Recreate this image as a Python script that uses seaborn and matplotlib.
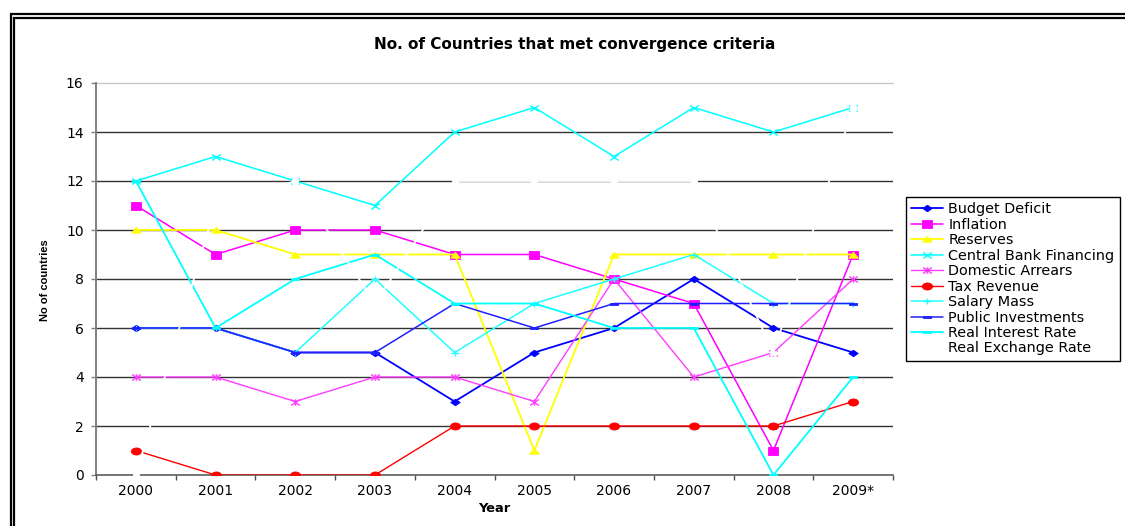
import numpy as np
import matplotlib
matplotlib.use("Agg")
import matplotlib.pyplot as plt
from matplotlib.path import Path
from matplotlib.patches import Rectangle
import seaborn as sns

# ---- data ---------------------------------------------------------------
years = ["2000", "2001", "2002", "2003", "2004", "2005", "2006", "2007", "2008", "2009*"]

budget_deficit = [6, 6, 5, 5, 3, 5, 6, 8, 6, 5]
inflation = [11, 9, 10, 10, 9, 9, 8, 7, 1, 9]
reserves = [10, 10, 9, 9, 9, 1, 9, 9, 9, 9]
central_bank_financing = [12, 13, 12, 11, 14, 15, 13, 15, 14, 15]
domestic_arrears = [4, 4, 3, 4, 4, 3, 8, 4, 5, 8]
tax_revenue = [1, 0, 0, 0, 2, 2, 2, 2, 2, 3]
salary_mass = [6, 6, 5, 8, 5, 7, 8, 9, 7, 7]
public_investments = [6, 6, 5, 5, 7, 6, 7, 7, 7, 7]
real_interest_rate = [12, 6, 8, 9, 7, 7, 6, 6, 0, 4]
real_exchange_rate = [0, 11, 12, 7, 12, 12, 12, 12, 5, 15]

series_names = ["Budget Deficit", "Inflation", "Reserves", "Central Bank Financing",
                "Domestic Arrears", "Tax Revenue", "Salary Mass", "Public Investments",
                "Real Interest Rate", "Real Exchange Rate"]
series_values = [budget_deficit, inflation, reserves, central_bank_financing,
                 domestic_arrears, tax_revenue, salary_mass, public_investments,
                 real_interest_rate, real_exchange_rate]

# ---- marker shapes (slightly wide, Excel-style) -------------------------
SX = 1.45


def wide_path(verts, codes=None):
    v = np.array(verts, dtype=float, copy=True)
    v[:, 0] *= SX
    return Path(v, None if codes is None else np.array(codes, copy=True))


M, L, C = Path.MOVETO, Path.LINETO, Path.CLOSEPOLY
diamond = wide_path([(0, 1), (1, 0), (0, -1), (-1, 0), (0, 1)], [M, L, L, L, C])
square = wide_path([(-1, -1), (1, -1), (1, 1), (-1, 1), (-1, -1)], [M, L, L, L, C])
triangle = wide_path([(-1, -0.8), (1, -0.8), (0, 0.95), (-1, -0.8)], [M, L, L, C])
_circ = Path.unit_circle()
circle = wide_path(_circ.vertices, _circ.codes)
xmark = wide_path([(-1, -1), (1, 1), (-1, 1), (1, -1)], [M, L, M, L])
plus = wide_path([(-1, 0), (1, 0), (0, -1), (0, 1)], [M, L, M, L])
star = wide_path([(-1, -1), (1, 1), (-1, 1), (1, -1), (0, -1.1), (0, 1.1)],
                 [M, L, M, L, M, L])
dash = wide_path([(-1, 0.22), (1, 0.22), (1, -0.22), (-1, -0.22), (-1, 0.22)],
                 [M, L, L, L, C])
blot = wide_path([(-1, -0.75), (1, -0.75), (1, 0.75), (-1, 0.75), (-1, -0.75)],
                 [M, L, L, L, C])

styles = [
    dict(color="#0000FF", marker=diamond, ms=6.8, lw=1.3),
    dict(color="#FF00FF", marker=square, ms=7.4, lw=1.1),
    dict(color="#FFFF00", marker=triangle, ms=7.0, lw=1.3),
    dict(color="#00FFFF", marker=xmark, ms=6.2, lw=1.1, mew=1.0),
    dict(color="#FF3CFF", marker=star, ms=6.2, lw=1.0, mew=1.0),
    dict(color="#FF0000", marker=circle, ms=7.4, lw=1.0),
    dict(color="#20FFFF", marker=plus, ms=6.2, lw=1.1, mew=1.0),
    dict(color="#2020FF", marker=dash, ms=6.0, lw=1.1),
    dict(color="#00FFFF", marker=dash, ms=6.0, lw=1.3),
    dict(color="#FFFFFF", marker=blot, ms=4.6, lw=1.3),
]

# ---- figure -------------------------------------------------------------
sns.set_theme(style="white")
plt.rcParams["font.family"] = ["DejaVu Sans"]
plt.rcParams["text.color"] = "black"

W, H = 1125, 526
fig = plt.figure(figsize=(W / 100, H / 100), dpi=100)
fig.patch.set_facecolor("white")

left, right, top, bottom = 96, 893, 83, 475
ax = fig.add_axes([left / W, 1 - bottom / H, (right - left) / W, (bottom - top) / H])
ax.set_facecolor("white")

xpos = np.arange(len(years))
for name, vals, st in zip(series_names, series_values, styles):
    sns.lineplot(x=xpos, y=vals, ax=ax, color=st["color"], linewidth=st["lw"],
                 marker=st["marker"], markersize=st["ms"],
                 markerfacecolor=st["color"], markeredgecolor=st["color"],
                 markeredgewidth=st.get("mew", 0.6), label=name,
                 legend=False, zorder=3)

ax.set_xlim(-0.5, len(years) - 0.5)
ax.set_ylim(0, 16)
ax.set_yticks(np.arange(0, 17, 2))
ax.set_xticks(xpos)
ax.set_xticklabels(years)
ax.set_xticks(np.arange(-0.5, len(years), 1.0), minor=True)

# horizontal gridlines
for yv in range(2, 16, 2):
    ax.axhline(yv, color="#333333", lw=1.0, zorder=1)
ax.axhline(16, color="#c8c8c8", lw=1.0, zorder=1, clip_on=False)

for side in ["top", "right"]:
    ax.spines[side].set_visible(False)
ax.spines["left"].set_color("#808080")
ax.spines["left"].set_linewidth(1.4)
ax.spines["bottom"].set_color("#505050")
ax.spines["bottom"].set_linewidth(1.1)

ax.tick_params(axis="y", which="major", direction="out", length=3.6, width=1.0,
               color="#808080", pad=5.3, labelsize=10, labelcolor="black", left=True)
ax.tick_params(axis="x", which="major", length=0, pad=6.5, labelsize=10,
               labelcolor="black", bottom=True)
ax.tick_params(axis="x", which="minor", direction="out", length=3.6, width=1.0,
               color="#505050", bottom=True)
ax.set_xlabel("")
ax.set_ylabel("")

# titles and axis captions
fig.text(575 / W, 1 - 45 / H, "No. of Countries that met convergence criteria",
         ha="center", va="center", fontsize=11, fontweight="bold", color="black")
fig.text(494 / W, 1 - 509 / H, "Year", ha="center", va="center",
         fontsize=9.4, fontweight="bold", color="black")
fig.text(45 / W, 1 - 280 / H, "No of countries", ha="center", va="center",
         rotation=90, fontsize=8, fontweight="bold", color="black",
         family=["Liberation Sans", "DejaVu Sans"])

# legend
handles, labels = ax.get_legend_handles_labels()
leg = fig.legend(handles, labels, loc="upper left",
                 bbox_to_anchor=(906 / W, 1 - 197 / H), bbox_transform=fig.transFigure,
                 borderaxespad=0, fontsize=10.4, frameon=True, fancybox=False,
                 edgecolor="black", framealpha=1, borderpad=0.38,
                 handlelength=2.2, handletextpad=0.35, labelspacing=0.1,
                 labelcolor="black")
leg.get_frame().set_linewidth(1.0)

# double outer frame; right and bottom sides run past the canvas edge
for x0, y0 in [(11, 14), (14, 18)]:
    fig.add_artist(Rectangle((x0 / W, -0.1), (W + 40 - x0) / W, 1.1 - y0 / H,
                             transform=fig.transFigure, fill=False,
                             edgecolor="black", linewidth=1.6))

fig.savefig("out.png", dpi=100, facecolor="white")
